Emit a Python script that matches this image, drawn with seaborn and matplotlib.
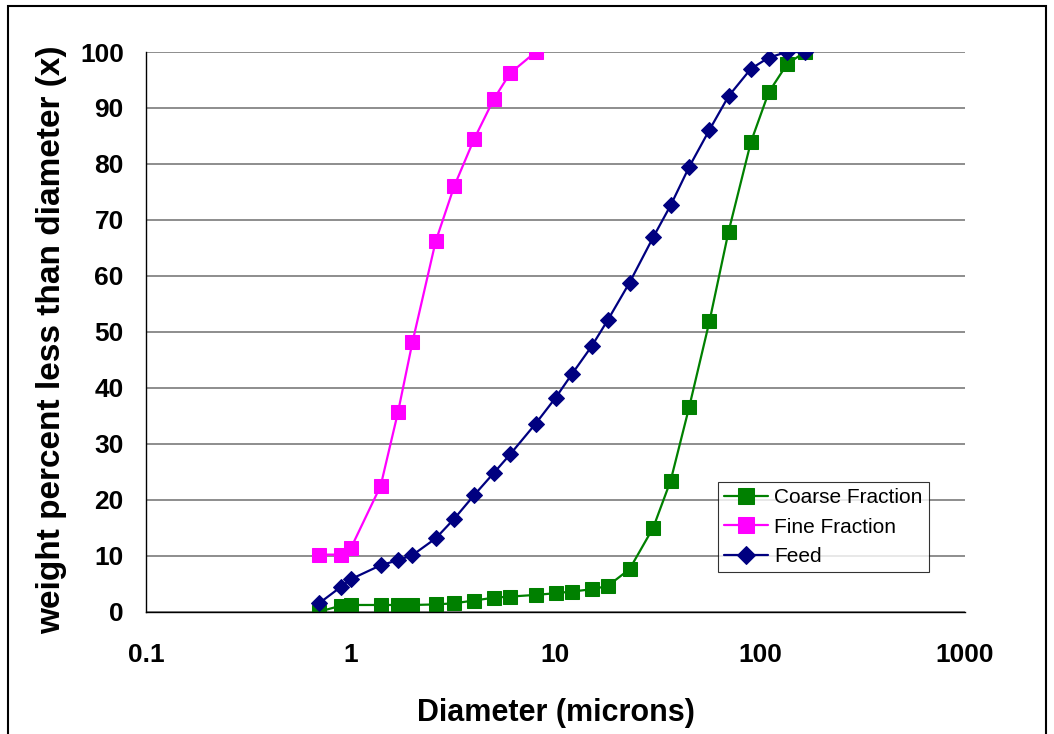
import numpy as np
import pandas as pd
import matplotlib
matplotlib.use("Agg")
import matplotlib.pyplot as plt
import seaborn as sns
from matplotlib.patches import Rectangle

# ---- data ----
diam_fine = [0.7, 0.9, 1.0, 1.4, 1.7, 2.0, 2.6, 3.2, 4.0, 5.0, 6.0, 8.0]
fine = [10.2, 10.2, 11.3, 22.5, 35.6, 48.1, 66.2, 76.0, 84.4, 91.6, 96.2, 100.0]

diam_all = [0.7, 0.9, 1.0, 1.4, 1.7, 2.0, 2.6, 3.2, 4.0, 5.0, 6.0, 8.0,
            10, 12, 15, 18, 23, 30, 36.5, 45, 56.5, 70, 90, 110, 135, 165]
coarse = [0.0, 1.1, 1.2, 1.2, 1.2, 1.2, 1.3, 1.5, 2.0, 2.5, 2.7, 3.0,
          3.3, 3.6, 4.0, 4.6, 7.6, 15.0, 23.4, 36.6, 51.9, 67.9, 83.9, 92.8, 97.8, 100.0]
feed = [1.5, 4.5, 5.8, 8.3, 9.2, 10.1, 13.1, 16.6, 20.8, 24.8, 28.1, 33.6,
        38.2, 42.4, 47.4, 52.1, 58.8, 66.9, 72.6, 79.5, 86.1, 92.1, 97.0, 99.0, 100.0, 100.0]

series_names = ["Coarse Fraction", "Fine Fraction", "Feed"]
x_ticks = [0.1, 1, 10, 100, 1000]
x_ticklabels = ["0.1", "1", "10", "100", "1000"]
y_ticks = list(range(0, 101, 10))

df = pd.concat([
    pd.DataFrame({"d": diam_all, "w": coarse, "s": series_names[0]}),
    pd.DataFrame({"d": diam_fine, "w": fine, "s": series_names[1]}),
    pd.DataFrame({"d": diam_all, "w": feed, "s": series_names[2]}),
], ignore_index=True)

sns.set_theme(style="white")
plt.rcParams["font.family"] = ["Liberation Sans", "DejaVu Sans"]
plt.rcParams["text.color"] = "black"
plt.rcParams["axes.labelcolor"] = "black"
plt.rcParams["xtick.color"] = "black"
plt.rcParams["ytick.color"] = "black"

fig = plt.figure(figsize=(10.54, 7.34), dpi=100)
ax = fig.add_axes([146/1054, 1-611.7/734, (965-146)/1054, (611.7-52)/734])

palette = {"Coarse Fraction": "#008000", "Fine Fraction": "#FF00FF", "Feed": "#000080"}
markers = {"Coarse Fraction": "s", "Fine Fraction": "s", "Feed": "D"}
sizes = {"Coarse Fraction": 10, "Fine Fraction": 10, "Feed": 8.5}

for name in series_names:
    sub = df[df["s"] == name]
    sns.lineplot(data=sub, x="d", y="w", ax=ax, color=palette[name],
                 marker=markers[name], markersize=sizes[name],
                 markeredgecolor=palette[name], linewidth=1.6,
                 label=name, sort=False, estimator=None)

ax.set_xscale("log")
ax.set_xlim(0.1, 1000)
ax.set_ylim(0, 100)
ax.set_xticks(x_ticks)
ax.set_xticklabels(x_ticklabels)
ax.xaxis.set_minor_locator(matplotlib.ticker.NullLocator())
ax.set_yticks(y_ticks)

for t in ax.get_xticklabels() + ax.get_yticklabels():
    t.set_fontweight("bold")
    t.set_fontsize(19)
    t.set_color("black")
ax.tick_params(axis="x", direction="out", length=7.5, width=0.8, color="black", pad=15)
ax.tick_params(axis="y", direction="out", length=6, width=0.8, color="black", pad=10)

ax.yaxis.grid(True, color="#7a7a7a", linewidth=1.2)
ax.xaxis.grid(False)
ax.set_axisbelow(True)
for sp in ["top", "right"]:
    ax.spines[sp].set_visible(False)
for sp in ["left", "bottom"]:
    ax.spines[sp].set_color("black")
    ax.spines[sp].set_linewidth(1.0)

ax.set_xlabel("Diameter (microns)", fontsize=22, fontweight="bold", labelpad=22, color="black")
ax.set_ylabel("weight percent less than diameter (x)", fontsize=24, fontweight="bold", color="black")
ax.yaxis.set_label_coords(-0.096, 0.485)

leg = ax.legend(loc="upper left", bbox_to_anchor=(0.698, 0.232), fontsize=15,
                frameon=True, fancybox=False, shadow=False, borderpad=0.3,
                handlelength=2.1, handletextpad=0.3, labelspacing=0.5, borderaxespad=0,
                markerscale=1.1)
leg.get_frame().set_edgecolor("black")
leg.get_frame().set_linewidth(0.8)
for t in leg.get_texts():
    t.set_color("black")

fig.patches.append(Rectangle((8/1054, -0.05), (1046-8)/1054, 1.05 - 6/734,
                             transform=fig.transFigure, fill=False,
                             edgecolor="black", linewidth=1.5))

fig.savefig("out.png", dpi=100)
